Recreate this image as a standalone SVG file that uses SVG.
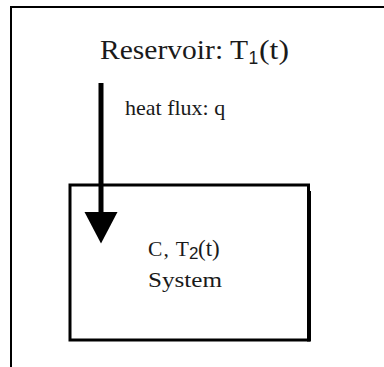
<svg xmlns="http://www.w3.org/2000/svg" width="384" height="367" viewBox="0 0 384 367">
<style>
.serif{font-family:"Liberation Serif","Times New Roman",serif;fill:#1a1a1a}
.sub{font-family:"Liberation Sans",Arial,sans-serif;fill:#1a1a1a}
.line{stroke:#000;fill:none}
</style>
<defs>
<marker id="head" markerUnits="userSpaceOnUse" viewBox="0 -17 32 34" markerWidth="32" markerHeight="34" refX="0" refY="0" orient="auto">
<path d="M0,-16.5 L31.5,0 L0,16.5 Z" fill="#000"/>
</marker>
</defs>
<rect width="384" height="367" fill="#fff"/>
<g id="reservoir">
<path class="line" d="M11,367 V7 H384" stroke-width="2"/>
<text class="serif" x="100" y="59" font-size="27" textLength="148" lengthAdjust="spacingAndGlyphs">Reservoir: T</text>
<text class="sub" x="248.5" y="63.5" font-size="17.5">1</text>
<text class="serif" x="259" y="59" font-size="28" textLength="30" lengthAdjust="spacingAndGlyphs">(t)</text>
</g>
<g id="system">
<rect class="line" x="70" y="185" width="238.5" height="155" stroke-width="3"/>
<path class="line" d="M309,191 V341.5" stroke-width="4"/>
<text class="serif" x="148" y="256" font-size="21.5" textLength="41" lengthAdjust="spacing">C, T</text>
<text class="sub" x="189" y="259" font-size="17">2</text>
<text class="serif" x="198" y="256" font-size="23">(t)</text>
<text class="serif" x="148" y="287" font-size="22" textLength="74" lengthAdjust="spacingAndGlyphs">System</text>
</g>
<g id="connectors">
<path class="line" d="M101,83 V212" stroke-width="5" marker-end="url(#head)"/>
<text class="serif" x="125" y="115" font-size="22">heat flux: q</text>
</g>
</svg>
